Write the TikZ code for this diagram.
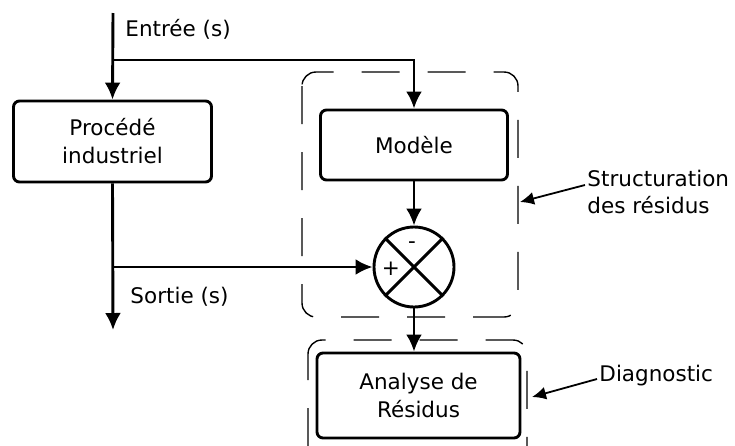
\documentclass[tikz,border=0pt]{standalone}
\usepackage{fontspec}
\setmainfont{DejaVu Sans}
\usetikzlibrary{calc}
\usetikzlibrary{arrows.meta}
\usetikzlibrary{positioning}

\begin{document}
\begin{tikzpicture}[x=1pt, y=-1pt, line width=2.9pt,
 bloc/.style={rectangle, rounded corners=6pt, draw=black, align=center, inner sep=2pt, font=\fontsize{21.5}{28}\selectfont},
 txt/.style={inner sep=1pt, align=left, font=\fontsize{21.5}{27}\selectfont},
 fl/.style={-{Latex[length=17pt, width=16pt]}},
 flsec/.style={-{Latex[length=14pt, width=13pt]}, line width=1.8pt},
 zone/.style={draw=black, line width=1.4pt, rounded corners=14pt, dash pattern=on 38pt off 28pt}]
 \clip (0, 0) rectangle (735, 445);
 % blocs
 \node [bloc, minimum width=198pt, minimum height=81pt] (P) at (112.5, 141.5) {Procédé\\industriel};
 \node [bloc, minimum width=187pt, minimum height=70pt] (M) at (414, 145) {Modèle};
 \node [circle, draw=black, minimum size=80pt, inner sep=0pt] (S) at (414, 267) {};
 \draw (S.north west) -- (S.south east);
 \draw (S.north east) -- (S.south west);
 \node [txt] (moins) at (412, 245) {-};
 \node [txt] (plus) at (391, 269) {+};
 \node [bloc, minimum width=203pt, minimum height=85pt] (A) at (418.5, 395.5) {Analyse de\\Résidus};
 % entree / sortie
 \coordinate (E) at (113, 13);
 \coordinate (B) at (113, 60);
 \coordinate (O) at (113, 330);
 \draw [fl] (E) to (P.north);
 \draw [fl] (B) -| (M.north);
 \draw [fl] (P.south) to (O);
 \draw [fl] (P.south |- S.west) to (S.west);
 \draw [fl] (M.south) to (S.north);
 \draw [fl] (S.south) to (S.south |- A.north);
 \node [txt, anchor=west] (Ein) at (123, 29) {Entrée (s)};
 \node [txt, anchor=west] (Sout) at (128, 297) {Sortie (s)};
 % zones
 \draw [zone] (302, 72) rectangle (518, 317);
 \draw [zone, dash phase=12pt] (308, 340) rectangle (527, 470);
 \node [txt, anchor=west] (R) at (585, 192) {Structuration\\des résidus};
 \node [txt, anchor=west] (G) at (597, 376) {Diagnostic};
 \coordinate (Rz) at (520, 202);
 \coordinate (Gz) at (532, 397);
 \draw [flsec] ([yshift=7pt]R.west) to (Rz);
 \draw [flsec] ([yshift=-3pt]G.west) to (Gz);
\end{tikzpicture}
\end{document}
